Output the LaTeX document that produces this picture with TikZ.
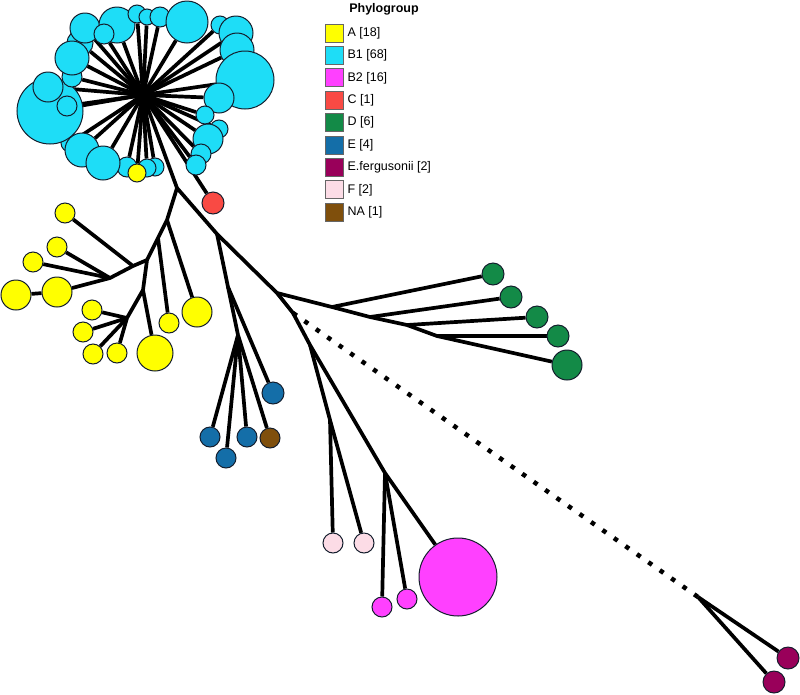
\documentclass[tikz,border=0pt]{standalone}
\usepackage{fontspec}
\setmainfont{Liberation Sans}
\usetikzlibrary{positioning,backgrounds}
\definecolor{pgA}{RGB}{255,255,0}
\definecolor{pgBone}{RGB}{30,221,247}
\definecolor{pgBtwo}{RGB}{255,64,255}
\definecolor{pgC}{RGB}{249,74,68}
\definecolor{pgD}{RGB}{19,138,71}
\definecolor{pgE}{RGB}{20,110,168}
\definecolor{pgEf}{RGB}{153,0,90}
\definecolor{pgF}{RGB}{252,220,230}
\definecolor{pgNA}{RGB}{127,79,12}
\definecolor{rim}{RGB}{20,30,45}
\tikzset{rad/.style={minimum size=#1*2pt}}

\begin{document}
\begin{tikzpicture}[x=1pt,y=-1pt]
    \tikzstyle{leaf} = [draw=rim, circle, inner sep=0pt, line width=1pt]
    \tikzstyle{edge} = [line width=3.7pt, black, line join=round]
    \tikzstyle{longedge} = [line width=4.5pt, black, dash pattern=on 4.5pt off 9.5pt]
    \tikzstyle{key} = [draw=black!60, rectangle, minimum size=18pt, inner sep=0pt, line width=0.8pt]
    \tikzstyle{keytext} = [font=\fontsize{12.5}{14}\selectfont, inner sep=0pt]

    \useasboundingbox (0,0) rectangle (800,694);

    % branch points
    \coordinate (hub) at (143,95);
    \coordinate (t1) at (177,188);
    \coordinate (t2) at (167,220);
    \coordinate (t3) at (158,238);
    \coordinate (t4) at (147,260);
    \coordinate (t5) at (133,266);
    \coordinate (t6) at (110,278);
    \coordinate (t7) at (143,290);
    \coordinate (t8) at (127,318);
    \coordinate (t9) at (217,234);
    \coordinate (t9b) at (228,287);
    \coordinate (t10) at (238,335);
    \coordinate (t11) at (277,293);
    \coordinate (dj1) at (332,307);
    \coordinate (dj2) at (370,317);
    \coordinate (dj3) at (407,325);
    \coordinate (dj4) at (437,336);
    \coordinate (t12) at (293,313);
    \coordinate (t13) at (310,345);
    \coordinate (t14) at (330,420);
    \coordinate (t15) at (385,473);
    \coordinate (t16) at (698,597);

    % B1 cluster
    \node[leaf, fill=pgBone, rad=9] (b23) at (70,143) {};
    \node[leaf, fill=pgBone, rad=33] (b24) at (50,111) {};
    \node[leaf, fill=pgBone, rad=15] (b25) at (48,87) {};
    \node[leaf, fill=pgBone, rad=10] (b26) at (67,106) {};
    \node[leaf, fill=pgBone, rad=10] (b27) at (72,77) {};
    \node[leaf, fill=pgBone, rad=13] (b29) at (80,43) {};
    \node[leaf, fill=pgBone, rad=17] (b28) at (72,58) {};
    \node[leaf, fill=pgBone, rad=15] (b1) at (85,28) {};
    \node[leaf, fill=pgBone, rad=18] (b2) at (117,25) {};
    \node[leaf, fill=pgBone, rad=10] (b3) at (104,34) {};
    \node[leaf, fill=pgBone, rad=9] (b4) at (137,14) {};
    \node[leaf, fill=pgBone, rad=8] (b5) at (147,17) {};
    \node[leaf, fill=pgBone, rad=10] (b6) at (160,17) {};
    \node[leaf, fill=pgBone, rad=21] (b7) at (187,22) {};
    \node[leaf, fill=pgBone, rad=9] (b8) at (220,25) {};
    \node[leaf, fill=pgBone, rad=17] (b9) at (236,33) {};
    \node[leaf, fill=pgBone, rad=17] (b10) at (237,50) {};
    \node[leaf, fill=pgBone, rad=29] (b11) at (245,80) {};
    \node[leaf, fill=pgBone, rad=15] (b12) at (219,98) {};
    \node[leaf, fill=pgBone, rad=9] (b13) at (205,115) {};
    \node[leaf, fill=pgBone, rad=9] (b14) at (219,129) {};
    \node[leaf, fill=pgBone, rad=15] (b15) at (208,139) {};
    \node[leaf, fill=pgBone, rad=10] (b16) at (201,154) {};
    \node[leaf, fill=pgBone, rad=10] (b17) at (196,165) {};
    \node[leaf, fill=pgBone, rad=9] (b18) at (155,167) {};
    \node[leaf, fill=pgBone, rad=9] (b19) at (147,168) {};
    \node[leaf, fill=pgBone, rad=10] (b20) at (127,167) {};
    \node[leaf, fill=pgBone, rad=17] (b22) at (82,150) {};
    \node[leaf, fill=pgBone, rad=17] (b21) at (103,163) {};
    \node[leaf, fill=pgA, rad=9] (a0) at (137,173) {};

    % C
    \node[leaf, fill=pgC, rad=11] (c1) at (213,203) {};

    % A
    \node[leaf, fill=pgA, rad=15] (a1) at (197,312) {};
    \node[leaf, fill=pgA, rad=10] (a2) at (169,323) {};
    \node[leaf, fill=pgA, rad=10] (a3) at (65,213) {};
    \node[leaf, fill=pgA, rad=10] (a4) at (57,247) {};
    \node[leaf, fill=pgA, rad=10] (a5) at (33,262) {};
    \node[leaf, fill=pgA, rad=15] (a6) at (57,292) {};
    \node[leaf, fill=pgA, rad=15] (a7) at (16,295) {};
    \node[leaf, fill=pgA, rad=18] (a8) at (155,353) {};
    \node[leaf, fill=pgA, rad=10] (a9) at (117,353) {};
    \node[leaf, fill=pgA, rad=10] (a10) at (92,310) {};
    \node[leaf, fill=pgA, rad=10] (a11) at (83,332) {};
    \node[leaf, fill=pgA, rad=10] (a12) at (93,354) {};

    % E and NA
    \node[leaf, fill=pgE, rad=11] (e5) at (273,393) {};
    \node[leaf, fill=pgE, rad=10] (e1) at (210,437) {};
    \node[leaf, fill=pgE, rad=10] (e2) at (226,458) {};
    \node[leaf, fill=pgE, rad=10] (e3) at (247,437) {};
    \node[leaf, fill=pgNA, rad=10] (na1) at (270,438) {};

    % D
    \node[leaf, fill=pgD, rad=11] (d1) at (493,274) {};
    \node[leaf, fill=pgD, rad=11] (d2) at (511,297) {};
    \node[leaf, fill=pgD, rad=11] (d3) at (537,317) {};
    \node[leaf, fill=pgD, rad=11] (d4) at (558,336) {};
    \node[leaf, fill=pgD, rad=15] (d5) at (567,365) {};

    % F and B2
    \node[leaf, fill=pgF, rad=10] (f1) at (333,543) {};
    \node[leaf, fill=pgF, rad=10] (f2) at (364,543) {};
    \node[leaf, fill=pgBtwo, rad=39] (bb1) at (458,577) {};
    \node[leaf, fill=pgBtwo, rad=10] (bb2) at (382,607) {};
    \node[leaf, fill=pgBtwo, rad=10] (bb3) at (407,599) {};

    % E. fergusonii
    \node[leaf, fill=pgEf, rad=11] (ef1) at (788,658) {};
    \node[leaf, fill=pgEf, rad=11] (ef2) at (774,682) {};

    \begin{scope}[on background layer]
      \foreach \n in {b1,b2,b3,b4,b5,b6,b7,b8,b9,b10,b11,b12,b13,b14,b15,b16,b17,b18,b19,b20,b21,b22,b23,b24,b25,b26,b27,b28,b29,a0,c1}
        \draw[edge] (hub) -- (\n);
      \draw[edge] (hub) -- (t1) -- (t9) -- (t11) -- (t12) -- (t13) -- (t15) -- (bb1);
      \draw[edge] (t1) -- (t2) -- (t3) -- (t4) -- (t5) -- (t6) -- (a6) -- (a7);
      \draw[edge] (t2) -- (a1);
      \draw[edge] (t3) -- (a2);
      \draw[edge] (t5) -- (a3);
      \draw[edge] (t6) -- (a4);
      \draw[edge] (t6) -- (a5);
      \draw[edge] (t4) -- (t7) -- (a8);
      \draw[edge] (t7) -- (t8) -- (a9);
      \draw[edge] (t8) -- (a10);
      \draw[edge] (t8) -- (a11);
      \draw[edge] (t8) -- (a12);
      \draw[edge] (t9) -- (t9b) -- (e5);
      \draw[edge] (t9b) -- (t10);
      \draw[edge] (t10) -- (e1);
      \draw[edge] (t10) -- (e2);
      \draw[edge] (t10) -- (e3);
      \draw[edge] (t10) -- (na1);
      \draw[edge] (t11) -- (dj1) -- (dj2) -- (dj3) -- (dj4) -- (d5);
      \draw[edge] (dj1) -- (d1);
      \draw[edge] (dj2) -- (d2);
      \draw[edge] (dj3) -- (d3);
      \draw[edge] (dj4) -- (d4);
      \draw[edge] (t13) -- (t14) -- (f1);
      \draw[edge] (t14) -- (f2);
      \draw[edge] (t15) -- (bb2);
      \draw[edge] (t15) -- (bb3);
      \draw[longedge] (t12) -- (t16);
      \draw[edge] (t16) -- (ef1);
      \draw[edge] (t16) -- (ef2);
    \end{scope}

    % legend
    \node[keytext, font=\bfseries\fontsize{12.5}{14}\selectfont] (title) at (384,9) {Phylogroup};
    \node[key, fill=pgA] (kA) at (334,33) {};
    \node[key, fill=pgBone, below=3.6pt of kA] (kB1) {};
    \node[key, fill=pgBtwo, below=3.6pt of kB1] (kB2) {};
    \node[key, fill=pgC, below=3.6pt of kB2] (kC) {};
    \node[key, fill=pgD, below=3.6pt of kC] (kD) {};
    \node[key, fill=pgE, below=3.6pt of kD] (kE) {};
    \node[key, fill=pgEf, below=3.6pt of kE] (kEf) {};
    \node[key, fill=pgF, below=3.6pt of kEf] (kF) {};
    \node[key, fill=pgNA, below=3.6pt of kF] (kNA) {};
    \node[keytext, right=4pt of kA] (lA) {A [18]};
    \node[keytext, right=4pt of kB1] (lB1) {B1 [68]};
    \node[keytext, right=4pt of kB2] (lB2) {B2 [16]};
    \node[keytext, right=4pt of kC] (lC) {C [1]};
    \node[keytext, right=4pt of kD] (lD) {D [6]};
    \node[keytext, right=4pt of kE] (lE) {E [4]};
    \node[keytext, right=4pt of kEf] (lEf) {E.fergusonii [2]};
    \node[keytext, right=4pt of kF] (lF) {F [2]};
    \node[keytext, right=4pt of kNA] (lNA) {NA [1]};
\end{tikzpicture}
\end{document}
